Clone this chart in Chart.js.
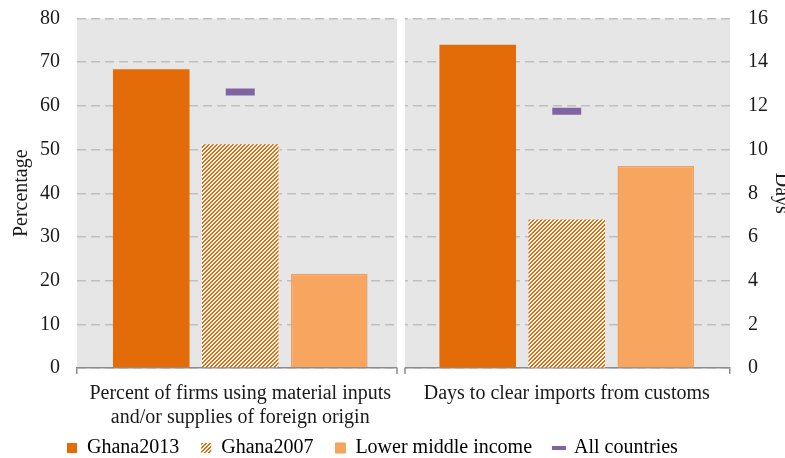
<!DOCTYPE html>
<html>
<head>
<meta charset="utf-8">
<script src="https://cdn.jsdelivr.net/npm/chart.js@4.4.1/dist/chart.umd.min.js"></script>
<style>
  html, body { margin: 0; padding: 0; background: #fff; }
  #wrap { width: 785px; height: 458px; position: relative; }
</style>
</head>
<body>
<div id="wrap"><canvas id="chart"></canvas></div>
<script>
// data
var categories = [["Percent of firms using material inputs", "and/or supplies of foreign origin"], "Days to clear imports from customs"];
var ghana2013 = [68.4, 14.8];
var ghana2007 = [51.2, 6.8];
var lowerMiddle = [21.6, 9.25];
var allCountries = [63.2, 11.75];
var pctAxis = { min: 0, max: 80, step: 10 };
var daysAxis = { min: 0, max: 16, step: 2 };

var ORANGE = "#E36C09";
var LIGHT = "#F7A55F";
var LIGHT_BORDER = "#E9A060";
var PURPLE = "#8064A2";
var PANEL = "#E6E6E6";
var AXIS = "#8C8C8C";
var TEXT = "#1A1A1A";

Chart.defaults.font.family = "'Liberation Serif', serif";
Chart.defaults.font.size = 20;
Chart.defaults.color = TEXT;

// left panel uses the percentage axis, right panel uses the days axis
function leftOnly(arr) { return [arr[0], null]; }
function rightOnly(arr) { return [null, arr[1]]; }

// hatch pattern (wide upward diagonal)
function makeHatch() {
  var c = document.createElement("canvas");
  c.width = 8; c.height = 8;
  var g = c.getContext("2d");
  g.fillStyle = "#fff";
  g.fillRect(0, 0, 8, 8);
  g.fillStyle = ORANGE;
  for (var y = 0; y < 8; y++) {
    for (var x = 0; x < 8; x++) {
      if ((x + y) % 4 < 2) g.fillRect(x, y, 1, 1);
    }
  }
  return g.createPattern(c, "repeat");
}
var hatch = makeHatch();

function barSet(label, data, axis, fill, border, bw) {
  return {
    type: "bar", label: label, data: data, yAxisID: axis,
    backgroundColor: fill, borderColor: border || fill, borderWidth: bw || 0,
    skipNull: true, categoryPercentage: 0.818, barPercentage: 0.86, order: 2
  };
}
function markSet(data, axis) {
  return {
    type: "line", label: "All countries", data: data, yAxisID: axis,
    showLine: false, pointStyle: "line", pointRadius: 14.5, pointHoverRadius: 14.5,
    pointBorderWidth: 7, pointHoverBorderWidth: 7,
    pointBorderColor: PURPLE, pointBackgroundColor: PURPLE, order: 1
  };
}

// keep the plot box fixed, labels may hang outside it
function noPad(s) {
  s.paddingTop = 0;
  s.paddingBottom = 0;
}

var panelPlugin = {
  id: "panels",
  beforeDraw: function (chart) {
    var a = chart.chartArea, ctx = chart.ctx;
    ctx.save();
    ctx.fillStyle = PANEL;
    ctx.fillRect(a.left, a.top, a.right - a.left, a.bottom - a.top);
    ctx.restore();
  },
  beforeDatasetsDraw: function (chart) {
    var a = chart.chartArea, ctx = chart.ctx;
    var mid = (a.left + a.right) / 2;
    var x1 = mid - 6.5, x2 = mid + 1.5;
    ctx.save();
    ctx.fillStyle = "#fff";
    ctx.fillRect(x1, a.top - 2, x2 - x1, a.bottom - a.top + 10);
    ctx.strokeStyle = AXIS;
    ctx.lineWidth = 1.5;
    ctx.beginPath();
    ctx.moveTo(x1, a.bottom - 0.5); ctx.lineTo(x1, a.bottom + 6);
    ctx.moveTo(x2, a.bottom - 0.5); ctx.lineTo(x2, a.bottom + 6);
    ctx.stroke();
    ctx.restore();
  },
  afterLayout: function (chart) {
    var lg = chart.legend;
    var pad = lg.options.labels.padding;
    lg.left = 67 - pad;
    lg.top = 438 - pad;
  }
};

new Chart(document.getElementById("chart"), {
  type: "bar",
  data: {
    labels: categories,
    datasets: [
      barSet("Ghana2013", leftOnly(ghana2013), "y", ORANGE),
      barSet("Ghana2007", leftOnly(ghana2007), "y", hatch),
      barSet("Lower middle income", leftOnly(lowerMiddle), "y", LIGHT, LIGHT_BORDER, 1.5),
      barSet("Ghana2013", rightOnly(ghana2013), "y2", ORANGE),
      barSet("Ghana2007", rightOnly(ghana2007), "y2", hatch),
      barSet("Lower middle income", rightOnly(lowerMiddle), "y2", LIGHT, LIGHT_BORDER, 1.5),
      markSet(leftOnly(allCountries), "y"),
      markSet(rightOnly(allCountries), "y2")
    ]
  },
  options: {
    responsive: true,
    maintainAspectRatio: false,
    animation: false,
    layout: { autoPadding: false, padding: { top: 18.5, left: 0, right: 0, bottom: -24 } },
    plugins: {
      tooltip: { enabled: false },
      legend: {
        position: "bottom",
        align: "start",
        labels: {
          usePointStyle: true,
          boxWidth: 10,
          boxHeight: 10,
          padding: 22,
          font: { size: 20 },
          color: TEXT,
          generateLabels: function () {
            return [
              { text: "Ghana2013", fillStyle: ORANGE, strokeStyle: ORANGE, lineWidth: 0, pointStyle: "rect" },
              { text: "Ghana2007", fillStyle: hatch, strokeStyle: ORANGE, lineWidth: 0, pointStyle: "rect" },
              { text: "Lower middle income", fillStyle: LIGHT, strokeStyle: LIGHT_BORDER, lineWidth: 1, pointStyle: "rect" },
              { text: "All countries", fillStyle: PURPLE, strokeStyle: PURPLE, lineWidth: 4, pointStyle: "line" }
            ];
          }
        }
      }
    },
    scales: {
      x: {
        offset: true,
        afterFit: function (s) { s.height = 62; noPad(s); },
        grid: { offset: true, drawOnChartArea: false, drawTicks: true, tickLength: 6, color: AXIS, lineWidth: 1.5 },
        border: { display: true, color: AXIS, width: 1.5 },
        ticks: { padding: 8, maxRotation: 0, autoSkip: false, font: { size: 20, lineHeight: 1.2 }, color: TEXT }
      },
      y: {
        position: "left",
        min: pctAxis.min, max: pctAxis.max,
        afterFit: function (s) { s.width = 77; noPad(s); },
        ticks: { stepSize: pctAxis.step, padding: 17, color: TEXT },
        grid: { color: "#BFBFBF", lineWidth: 1.5, drawTicks: false },
        border: { display: false, dash: [9, 5] },
        title: { display: true, text: "Percentage", color: TEXT, font: { size: 20 }, padding: { top: 10, bottom: 0 } }
      },
      y2: {
        position: "right",
        min: daysAxis.min, max: daysAxis.max,
        afterFit: function (s) { s.width = 55; noPad(s); },
        ticks: { stepSize: daysAxis.step, padding: 18, color: TEXT },
        grid: { drawOnChartArea: false, drawTicks: false },
        border: { display: false },
        title: { display: true, text: "Days", color: TEXT, font: { size: 20 }, padding: { top: -8, bottom: 0 } }
      }
    }
  },
  plugins: [panelPlugin]
});
</script>
</body>
</html>
